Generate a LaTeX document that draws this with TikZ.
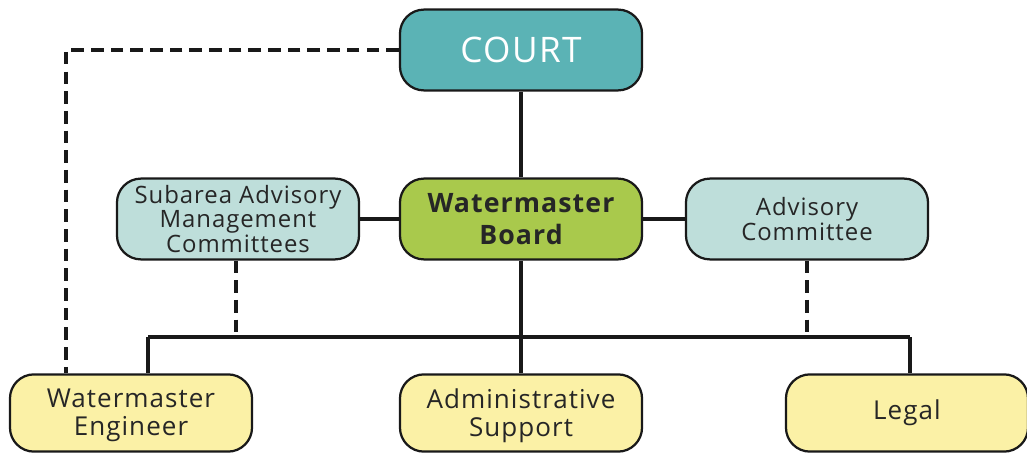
\documentclass[tikz,border=0pt]{standalone}
\usepackage{fontspec}
\setmainfont{Open Sans}[LetterSpace=4]
\usetikzlibrary{positioning}

\definecolor{courtfill}{HTML}{5BB3B5}
\definecolor{boardfill}{HTML}{A9C94C}
\definecolor{advfill}{HTML}{BEDEDA}
\definecolor{stafffill}{HTML}{FBF1A6}
\definecolor{txt}{HTML}{262626}

\begin{document}
\begin{tikzpicture}[x=0.025cm, y=-0.025cm,
        box/.style={draw=black!90, line width=1.6pt, rounded corners=0.6cm,
            minimum width=6.05cm, minimum height=2.02cm, align=center,
            text=txt, font=\fontsize{17}{16}\selectfont, inner sep=0pt},
        staff/.style={box, fill=stafffill, minimum height=1.93cm,
            font=\fontsize{18.5}{20}\selectfont},
        solidline/.style={line width=2.6pt, black!90},
        dashline/.style={line width=2.2pt, black!90, dash pattern=on 9pt off 5pt}]
    \useasboundingbox (0, 0) rectangle (1027, 453);
    % boxes
    \node[box, fill=courtfill, text=white, font=\fontsize{25}{28}\selectfont] (court) at (521, 50) {COURT};
    \node[box, fill=boardfill, font=\fontsize{19}{23}\bfseries\selectfont] (board) at (521, 219) {Watermaster\\Board};
    \node[box, fill=advfill] (sub) at (238, 219) {Subarea Advisory\\Management\\Committees};
    \node[box, fill=advfill, font=\fontsize{17}{18}\selectfont] (adv) at (807, 219) {Advisory\\Committee};
    \node[staff, text depth=0pt] (eng) at (131, 413) {\raisebox{-6pt}[0pt][0pt]{\parbox{5cm}{\centering Watermaster\\Engineer}}};
    \node[staff, text depth=0pt] (admin) at (521, 413) {\raisebox{-6pt}[0pt][0pt]{\parbox{5cm}{\centering Administrative\\Support}}};
    \node[staff] (legal) at (907, 413) {Legal};
    % bus
    \coordinate (bus) at (521, 337);
    \coordinate (busl) at (148, 337);
    \coordinate (busr) at (910, 337);
    % solid links
    \draw[solidline] (court) -- (board);
    \draw[solidline] (sub) -- (board);
    \draw[solidline] (board) -- (adv);
    \draw[solidline] (board) -- (bus);
    \draw[solidline] (busl) -- (busr);
    \draw[solidline] (busl) -- (busl |- eng.north);
    \draw[solidline] (bus) -- (admin);
    \draw[solidline] (busr) -- (busr |- legal.north);
    % dashed links
    \draw[dashline] (sub.south -| 236, 0) -- (236, 337);
    \draw[dashline] (adv.south) -- (adv.south |- bus);
    \draw[dashline] (court.west) -| (eng.north -| 66, 0);
\end{tikzpicture}
\end{document}
